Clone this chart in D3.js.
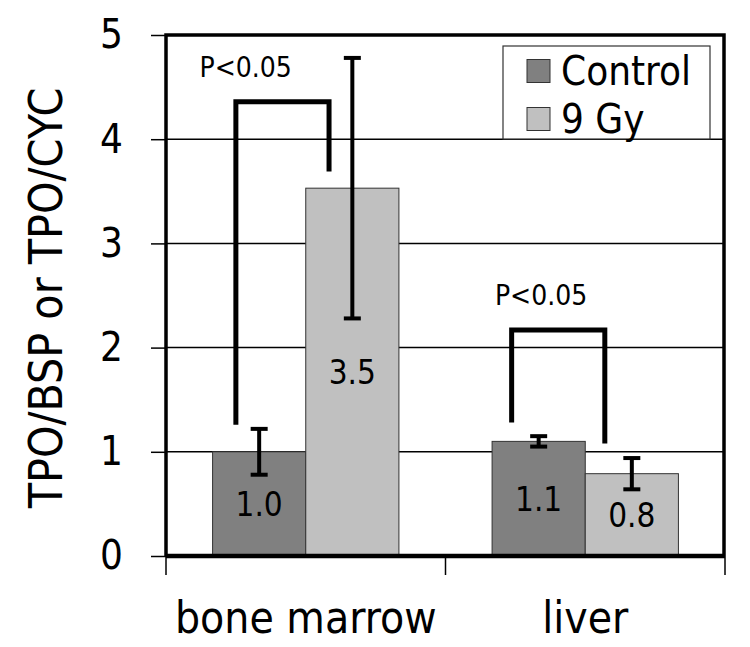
<!DOCTYPE html>
<html>
<head>
<meta charset="utf-8">
<script src="https://cdn.jsdelivr.net/npm/d3@7"></script>
<style>
  body { margin: 0; background: #fff; }
  svg { display: block; }
  text { font-family: "DejaVu Sans Condensed", "DejaVu Sans", sans-serif; fill: #000; }
</style>
</head>
<body>
<svg id="chart" width="750" height="647"></svg>
<script>
const categories = ["bone marrow", "liver"];
const series = ["Control", "9 Gy"];
const seriesColors = ["#808080", "#c0c0c0"];
const means = [[1.0, 3.53], [1.10, 0.79]];
const errors = [[0.22, 1.25], [0.05, 0.15]];
const barLabels = [["1.0", "3.5"], ["1.1", "0.8"]];
const yTicks = [0, 1, 2, 3, 4, 5];
// significance brackets: top, left bottom, right bottom, position inside each bar
const brackets = [
  { cat: 0, top: 4.36, left: 1.26, right: 3.69, frac: 0.25 },
  { cat: 1, top: 2.17, left: 1.28, right: 1.08, frac: 0.21 }
];
const sigLabels = [
  { cat: 0, text: "P<0.05", pos: 0.285, y: 4.6 },
  { cat: 1, text: "P<0.05", pos: 0.342, y: 2.41 }
];

const svg = d3.select("#chart");
const plotL = 166, plotR = 725, plotT = 35, plotB = 556;

const y = d3.scaleLinear().domain([0, 5]).range([plotB, plotT]);
const x = d3.scaleBand().domain(d3.range(categories.length)).range([plotL, plotR]);
const xs = d3.scaleBand().domain(d3.range(series.length))
  .range([0, x.bandwidth()]).paddingOuter(0.5);

// gridlines
svg.append("g").selectAll("line")
  .data(yTicks.filter(d => d > 0 && d < 5))
  .join("line")
  .attr("x1", plotL).attr("x2", plotR)
  .attr("y1", d => y(d)).attr("y2", d => y(d))
  .attr("stroke", "#000").attr("stroke-width", 1.5);

// y axis
const yAxis = svg.append("g")
  .attr("transform", `translate(${plotL},0)`)
  .call(d3.axisLeft(y).tickValues(yTicks).tickSize(15).tickPadding(28).tickFormat(d3.format("d")));
yAxis.select(".domain").remove();
yAxis.selectAll(".tick line").attr("stroke", "#000").attr("stroke-width", 1.5);
yAxis.selectAll(".tick text").style("font-size", "40px").attr("font-family", null);

// x axis ticks at category boundaries
svg.append("g").selectAll("line")
  .data(d3.range(categories.length + 1))
  .join("line")
  .attr("x1", d => plotL + d * x.step()).attr("x2", d => plotL + d * x.step())
  .attr("y1", plotB).attr("y2", plotB + 19)
  .attr("stroke", "#000").attr("stroke-width", 1.5);

svg.append("g").selectAll("text")
  .data(categories)
  .join("text")
  .attr("x", (d, i) => x(i) + x.bandwidth() / 2)
  .attr("y", 633)
  .attr("text-anchor", "middle")
  .style("font-size", "44px")
  .text(d => d);

// bars
const groups = svg.append("g").selectAll("g")
  .data(categories.map((c, i) => i))
  .join("g")
  .attr("transform", i => `translate(${x(i)},0)`);

groups.selectAll("rect")
  .data(i => means[i].map((v, j) => ({ v, j, i })))
  .join("rect")
  .attr("x", d => xs(d.j))
  .attr("width", xs.bandwidth())
  .attr("y", d => y(d.v))
  .attr("height", d => y(0) - y(d.v))
  .attr("fill", d => seriesColors[d.j])
  .attr("stroke", "#333").attr("stroke-width", 1);

groups.selectAll("text.val")
  .data(i => means[i].map((v, j) => ({ v, j, i })))
  .join("text")
  .attr("class", "val")
  .attr("x", d => xs(d.j) + xs.bandwidth() / 2)
  .attr("y", d => (y(d.v) + y(0)) / 2)
  .attr("dy", "0.36em")
  .attr("text-anchor", "middle")
  .style("font-size", "33px")
  .text(d => barLabels[d.i][d.j]);

// error bars
const cap = 8.5;
groups.selectAll("g.err")
  .data(i => means[i].map((v, j) => ({ v, j, e: errors[i][j] })))
  .join("g")
  .attr("class", "err")
  .each(function (d) {
    const g = d3.select(this);
    const cx = xs(d.j) + xs.bandwidth() / 2;
    const lo = y(d.v - d.e), hi = y(d.v + d.e);
    g.append("line").attr("x1", cx).attr("x2", cx).attr("y1", lo).attr("y2", hi);
    g.append("line").attr("x1", cx - cap).attr("x2", cx + cap).attr("y1", lo).attr("y2", lo);
    g.append("line").attr("x1", cx - cap).attr("x2", cx + cap).attr("y1", hi).attr("y2", hi);
  })
  .selectAll("line").attr("stroke", "#000").attr("stroke-width", 4);

// significance brackets
svg.append("g").selectAll("path")
  .data(brackets)
  .join("path")
  .attr("d", b => {
    const x1 = x(b.cat) + xs(0) + b.frac * xs.bandwidth();
    const x2 = x(b.cat) + xs(1) + b.frac * xs.bandwidth();
    return `M${x1},${y(b.left)}V${y(b.top)}H${x2}V${y(b.right)}`;
  })
  .attr("fill", "none").attr("stroke", "#000").attr("stroke-width", 5);

svg.append("g").selectAll("text")
  .data(sigLabels)
  .join("text")
  .attr("x", d => x(d.cat) + d.pos * x.bandwidth())
  .attr("y", d => y(d.y))
  .attr("text-anchor", "middle")
  .style("font-size", "28px")
  .text(d => d.text);

// plot frame
svg.append("path")
  .attr("d", `M${plotL},${plotB}V${plotT}H${plotR - 1}V${plotB}`)
  .attr("fill", "none").attr("stroke", "#000").attr("stroke-width", 3.5);
svg.append("line")
  .attr("x1", plotL).attr("x2", plotR).attr("y1", plotB).attr("y2", plotB)
  .attr("stroke", "#000").attr("stroke-width", 4.5);

// legend
const legend = svg.append("g").attr("transform", "translate(503,46)");
legend.append("rect")
  .attr("width", 207).attr("height", 93)
  .attr("fill", "#fff").attr("stroke", "#333").attr("stroke-width", 1.2);
const items = legend.selectAll("g")
  .data(series)
  .join("g")
  .attr("transform", (d, i) => `translate(24,${25 + i * 48})`);
items.append("rect")
  .attr("y", -11.5).attr("width", 23).attr("height", 23)
  .attr("fill", (d, i) => seriesColors[i])
  .attr("stroke", "#333").attr("stroke-width", 1);
items.append("text")
  .attr("x", 34).attr("dy", "0.36em")
  .style("font-size", "40px")
  .text(d => d);

// y title
svg.append("text")
  .attr("transform", `translate(62,298) rotate(-90)`)
  .attr("text-anchor", "middle")
  .style("font-size", "46px")
  .text("TPO/BSP or TPO/CYC");
</script>
</body>
</html>
